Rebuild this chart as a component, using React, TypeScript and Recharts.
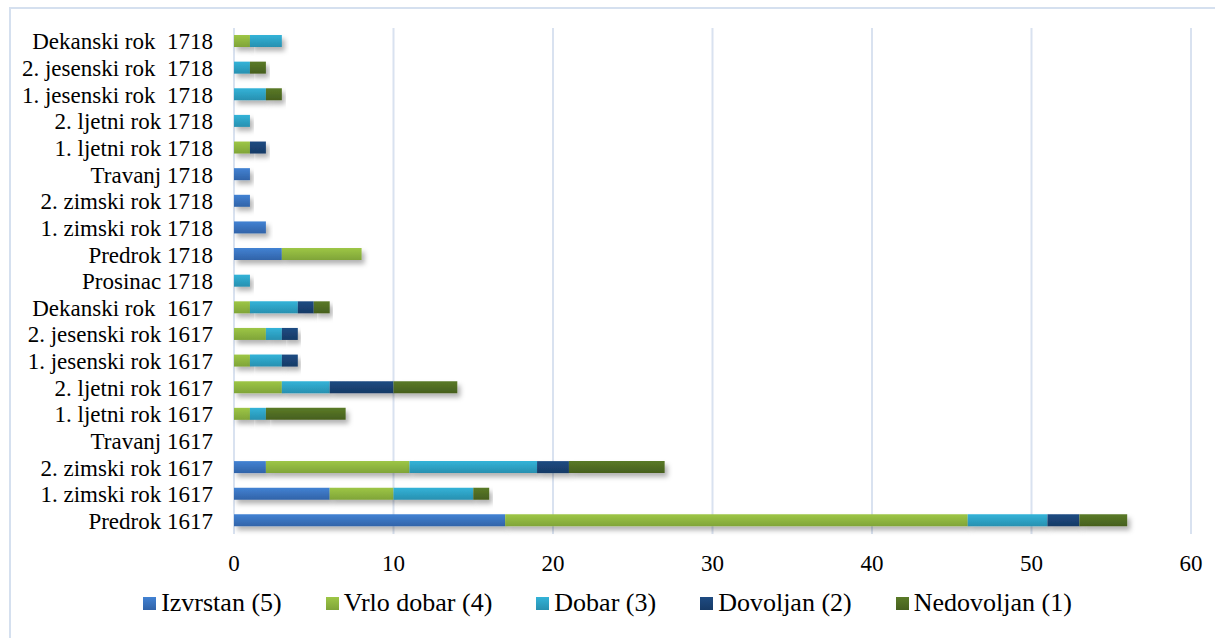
import { BarChart, Bar, XAxis, YAxis, CartesianGrid, Legend } from 'recharts';

// exam periods, listed top to bottom as in the picture
const periods = [
    'Dekanski rok\u00a0 1718',
    '2. jesenski rok\u00a0 1718',
    '1. jesenski rok\u00a0 1718',
    '2. ljetni rok 1718',
    '1. ljetni rok 1718',
    'Travanj 1718',
    '2. zimski rok 1718',
    '1. zimski rok 1718',
    'Predrok 1718',
    'Prosinac 1718',
    'Dekanski rok\u00a0 1617',
    '2. jesenski rok 1617',
    '1. jesenski rok 1617',
    '2. ljetni rok 1617',
    '1. ljetni rok 1617',
    'Travanj 1617',
    '2. zimski rok 1617',
    '1. zimski rok 1617',
    'Predrok 1617',
];

const izvrstan = [0, 0, 0, 0, 0, 1, 1, 2, 3, 0, 0, 0, 0, 0, 0, 0, 2, 6, 17];
const vrloDobar = [1, 0, 0, 0, 1, 0, 0, 0, 5, 0, 1, 2, 1, 3, 1, 0, 9, 4, 29];
const dobar = [2, 1, 2, 1, 0, 0, 0, 0, 0, 1, 3, 1, 2, 3, 1, 0, 8, 5, 5];
const dovoljan = [0, 0, 0, 0, 1, 0, 0, 0, 0, 0, 1, 1, 1, 4, 0, 0, 2, 0, 2];
const nedovoljan = [0, 1, 1, 0, 0, 0, 0, 0, 0, 0, 1, 0, 0, 4, 5, 0, 6, 1, 3];

const xTicks = [0, 10, 20, 30, 40, 50, 60];

const SERIES = [
    { key: 'izvrstan', name: 'Izvrstan (5)', top: '#4282D3', bottom: '#3163A8', values: izvrstan },
    { key: 'vrloDobar', name: 'Vrlo dobar (4)', top: '#9DC646', bottom: '#7FA438', values: vrloDobar },
    { key: 'dobar', name: 'Dobar (3)', top: '#33B3D8', bottom: '#2890B0', values: dobar },
    { key: 'dovoljan', name: 'Dovoljan (2)', top: '#1E4B82', bottom: '#173A66', values: dovoljan },
    { key: 'nedovoljan', name: 'Nedovoljan (1)', top: '#5A7A27', bottom: '#465F1E', values: nedovoljan },
];

const data = periods.map((name, i) => {
    const row: any = { name };
    SERIES.forEach((s) => { row[s.key] = s.values[i]; });
    return row;
});

const FONT = '"Liberation Serif", "Times New Roman", serif';

function LegendContent() {
    return (
        <div style={{ display: 'flex', justifyContent: 'center', gap: 44, fontFamily: FONT, fontSize: 26, lineHeight: '30px', color: '#000', paddingLeft: 24 }}>
            {SERIES.map((s) => (
                <div key={s.key} style={{ display: 'flex', alignItems: 'center' }}>
                    <span style={{ display: 'inline-block', width: 13, height: 13, marginRight: 5, background: `linear-gradient(${s.top}, ${s.bottom})` }} />
                    <span>{s.name}</span>
                </div>
            ))}
        </div>
    );
}

export default function App() {
    return (
        <div style={{ position: 'absolute', left: 0, top: 0, width: 1215, height: 638, background: '#fff', overflow: 'hidden' }}>
            <div style={{ position: 'absolute', left: 9, top: 7, width: 1220, height: 650, border: '2px solid #D5E0EF', boxSizing: 'border-box' }} />
            <div style={{ position: 'absolute', left: 0, top: 0 }}>
                <BarChart
                    width={1215}
                    height={638}
                    data={data}
                    layout="vertical"
                    margin={{ top: 28, right: 24, left: 0, bottom: 14 }}
                    barSize={12}
                >
                    <defs>
                        {SERIES.map((s) => (
                            <linearGradient key={s.key} id={`grad-${s.key}`} x1="0" y1="0" x2="0" y2="1">
                                <stop offset="0%" stopColor={s.top} />
                                <stop offset="100%" stopColor={s.bottom} />
                            </linearGradient>
                        ))}
                        <filter id="barShadow" x="-10%" y="-50%" width="130%" height="250%">
                            <feDropShadow dx="3" dy="4" stdDeviation="2.5" floodColor="#000" floodOpacity="0.3" />
                        </filter>
                    </defs>
                    <CartesianGrid horizontal={false} stroke="#D9E2F0" strokeWidth={2} />
                    <XAxis
                        type="number"
                        domain={[0, 60]}
                        ticks={xTicks}
                        axisLine={false}
                        tickLine={false}
                        tickMargin={15}
                        height={54}
                        tick={{ fontSize: 23, fill: '#000', fontFamily: FONT }}
                    />
                    <YAxis
                        type="category"
                        dataKey="name"
                        width={234}
                        axisLine={false}
                        tickLine={false}
                        tickMargin={15}
                        interval={0}
                        tick={{ fontSize: 23, fill: '#000', fontFamily: FONT }}
                    />
                    <Legend verticalAlign="bottom" height={36} content={<LegendContent />} />
                    {SERIES.map((s) => (
                        <Bar
                            key={s.key}
                            dataKey={s.key}
                            name={s.name}
                            stackId="a"
                            fill={`url(#grad-${s.key})`}
                            filter="url(#barShadow)"
                            isAnimationActive={false}
                        />
                    ))}
                </BarChart>
            </div>
        </div>
    );
}
